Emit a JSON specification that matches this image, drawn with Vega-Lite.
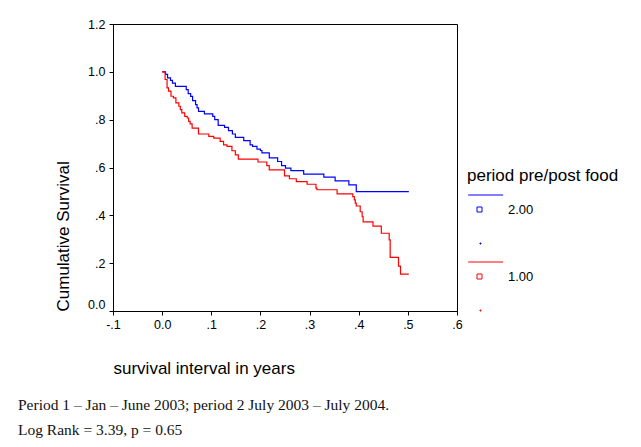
{
  "$schema": "https://vega.github.io/schema/vega-lite/v6.json",
  "autosize": {"type": "none"},
  "padding": {"left": 113, "top": 24, "right": 184, "bottom": 136},
  "width": 344,
  "height": 287,
  "background": "white",
  "config": {
    "view": {"stroke": "black", "strokeWidth": 1},
    "font": "Liberation Sans",
    "axis": {
      "domainColor": "black",
      "tickColor": "black",
      "labelColor": "black",
      "titleColor": "black",
      "grid": false,
      "labelFont": "Liberation Sans",
      "titleFont": "Liberation Sans",
      "labelFontSize": 12.5,
      "titleFontSize": 17,
      "titleFontWeight": "normal",
      "tickSize": 4
    }
  },
  "title": {
    "text": ["Period 1 \u2013 Jan \u2013 June 2003; period 2 July 2003 \u2013 July 2004.", "Log Rank = 3.39, p = 0.65"],
    "orient": "bottom",
    "anchor": "start",
    "frame": "group",
    "dx": -95,
    "offset": 21,
    "font": "Liberation Serif",
    "fontSize": 15.5,
    "fontWeight": "normal",
    "color": "#111111",
    "lineHeight": 25
  },
  "data": {
    "values": [
      {"time": 0.0, "surv": 1.0, "group": "2.00"},
      {"time": 0.007, "surv": 0.989, "group": "2.00"},
      {"time": 0.011, "surv": 0.975, "group": "2.00"},
      {"time": 0.017, "surv": 0.964, "group": "2.00"},
      {"time": 0.021, "surv": 0.953, "group": "2.00"},
      {"time": 0.027, "surv": 0.939, "group": "2.00"},
      {"time": 0.049, "surv": 0.926, "group": "2.00"},
      {"time": 0.053, "surv": 0.909, "group": "2.00"},
      {"time": 0.058, "surv": 0.897, "group": "2.00"},
      {"time": 0.062, "surv": 0.88, "group": "2.00"},
      {"time": 0.068, "surv": 0.863, "group": "2.00"},
      {"time": 0.071, "surv": 0.849, "group": "2.00"},
      {"time": 0.074, "surv": 0.835, "group": "2.00"},
      {"time": 0.086, "surv": 0.824, "group": "2.00"},
      {"time": 0.103, "surv": 0.814, "group": "2.00"},
      {"time": 0.107, "surv": 0.8, "group": "2.00"},
      {"time": 0.114, "surv": 0.776, "group": "2.00"},
      {"time": 0.127, "surv": 0.768, "group": "2.00"},
      {"time": 0.135, "surv": 0.754, "group": "2.00"},
      {"time": 0.143, "surv": 0.74, "group": "2.00"},
      {"time": 0.149, "surv": 0.726, "group": "2.00"},
      {"time": 0.166, "surv": 0.712, "group": "2.00"},
      {"time": 0.179, "surv": 0.695, "group": "2.00"},
      {"time": 0.184, "surv": 0.688, "group": "2.00"},
      {"time": 0.193, "surv": 0.677, "group": "2.00"},
      {"time": 0.2, "surv": 0.671, "group": "2.00"},
      {"time": 0.203, "surv": 0.661, "group": "2.00"},
      {"time": 0.218, "surv": 0.64, "group": "2.00"},
      {"time": 0.235, "surv": 0.625, "group": "2.00"},
      {"time": 0.243, "surv": 0.608, "group": "2.00"},
      {"time": 0.251, "surv": 0.597, "group": "2.00"},
      {"time": 0.262, "surv": 0.587, "group": "2.00"},
      {"time": 0.288, "surv": 0.572, "group": "2.00"},
      {"time": 0.329, "surv": 0.56, "group": "2.00"},
      {"time": 0.352, "surv": 0.544, "group": "2.00"},
      {"time": 0.38, "surv": 0.527, "group": "2.00"},
      {"time": 0.395, "surv": 0.499, "group": "2.00"},
      {"time": 0.502, "surv": 0.499, "group": "2.00"},
      {"time": 0.0, "surv": 1.0, "group": "1.00"},
      {"time": 0.006, "surv": 0.968, "group": "1.00"},
      {"time": 0.01, "surv": 0.933, "group": "1.00"},
      {"time": 0.013, "surv": 0.919, "group": "1.00"},
      {"time": 0.018, "surv": 0.898, "group": "1.00"},
      {"time": 0.023, "surv": 0.891, "group": "1.00"},
      {"time": 0.028, "surv": 0.87, "group": "1.00"},
      {"time": 0.034, "surv": 0.856, "group": "1.00"},
      {"time": 0.037, "surv": 0.842, "group": "1.00"},
      {"time": 0.04, "surv": 0.828, "group": "1.00"},
      {"time": 0.046, "surv": 0.814, "group": "1.00"},
      {"time": 0.051, "surv": 0.807, "group": "1.00"},
      {"time": 0.054, "surv": 0.793, "group": "1.00"},
      {"time": 0.057, "surv": 0.782, "group": "1.00"},
      {"time": 0.061, "surv": 0.765, "group": "1.00"},
      {"time": 0.074, "surv": 0.74, "group": "1.00"},
      {"time": 0.095, "surv": 0.73, "group": "1.00"},
      {"time": 0.105, "surv": 0.723, "group": "1.00"},
      {"time": 0.118, "surv": 0.709, "group": "1.00"},
      {"time": 0.125, "surv": 0.695, "group": "1.00"},
      {"time": 0.132, "surv": 0.688, "group": "1.00"},
      {"time": 0.142, "surv": 0.67, "group": "1.00"},
      {"time": 0.149, "surv": 0.653, "group": "1.00"},
      {"time": 0.155, "surv": 0.635, "group": "1.00"},
      {"time": 0.195, "surv": 0.623, "group": "1.00"},
      {"time": 0.213, "surv": 0.608, "group": "1.00"},
      {"time": 0.218, "surv": 0.59, "group": "1.00"},
      {"time": 0.249, "surv": 0.565, "group": "1.00"},
      {"time": 0.259, "surv": 0.553, "group": "1.00"},
      {"time": 0.273, "surv": 0.541, "group": "1.00"},
      {"time": 0.295, "surv": 0.53, "group": "1.00"},
      {"time": 0.313, "surv": 0.514, "group": "1.00"},
      {"time": 0.315, "surv": 0.507, "group": "1.00"},
      {"time": 0.356, "surv": 0.49, "group": "1.00"},
      {"time": 0.388, "surv": 0.478, "group": "1.00"},
      {"time": 0.391, "surv": 0.465, "group": "1.00"},
      {"time": 0.393, "surv": 0.451, "group": "1.00"},
      {"time": 0.395, "surv": 0.439, "group": "1.00"},
      {"time": 0.403, "surv": 0.415, "group": "1.00"},
      {"time": 0.407, "surv": 0.394, "group": "1.00"},
      {"time": 0.409, "surv": 0.373, "group": "1.00"},
      {"time": 0.429, "surv": 0.355, "group": "1.00"},
      {"time": 0.446, "surv": 0.325, "group": "1.00"},
      {"time": 0.462, "surv": 0.297, "group": "1.00"},
      {"time": 0.464, "surv": 0.224, "group": "1.00"},
      {"time": 0.481, "surv": 0.188, "group": "1.00"},
      {"time": 0.485, "surv": 0.154, "group": "1.00"},
      {"time": 0.502, "surv": 0.154, "group": "1.00"}
    ]
  },
  "mark": {"type": "line", "interpolate": "step-after", "strokeWidth": 1.2},
  "encoding": {
    "x": {
      "field": "time",
      "type": "quantitative",
      "scale": {"domain": [-0.1, 0.6], "nice": false, "zero": false},
      "axis": {
        "title": "survival interval in years",
        "values": [-0.1, 0, 0.1, 0.2, 0.3, 0.4, 0.5, 0.6],
        "labelExpr": "datum.value == 0 ? '0.0' : (abs(datum.value) < 0.99 ? (datum.value < 0 ? '-' : '') + '.' + format(abs(datum.value) * 10, '.0f') : format(datum.value, '.1f'))",
        "titleAnchor": "start",
        "titleAlign": "left",
        "titlePadding": 30,
        "labelPadding": 3,
        "labelFlush": false
      }
    },
    "y": {
      "field": "surv",
      "type": "quantitative",
      "scale": {"domain": [0, 1.2], "nice": false},
      "axis": {
        "title": "Cumulative Survival",
        "values": [0, 0.2, 0.4, 0.6, 0.8, 1.0, 1.2],
        "labelExpr": "datum.value == 0 ? '0.0' : (abs(datum.value) < 0.99 ? '.' + format(abs(datum.value) * 10, '.0f') : format(datum.value, '.1f'))",
        "labelBaseline": {"condition": {"test": "datum.value == 0", "value": "bottom"}, "value": "middle"},
        "titleAnchor": "start",
        "titlePadding": 15,
        "labelPadding": 4,
        "labelFlush": false
      }
    },
    "color": {
      "field": "group",
      "type": "nominal",
      "scale": {"domain": ["2.00", "1.00"], "range": ["#0000ff", "#ff0000"]},
      "legend": {
        "title": "period pre/post food",
        "orient": "none",
        "legendX": 354,
        "legendY": 144,
        "padding": 0,
        "titleFont": "Liberation Sans",
        "titleFontSize": 17,
        "titleFontWeight": "normal",
        "titleColor": "black",
        "titlePadding": 18,
        "labelFont": "Liberation Sans",
        "labelFontSize": 13,
        "labelColor": "black",
        "labelOffset": 28,
        "symbolType": "M-1.06,-2.9H5.94M0.7,-0.5H1.7V0.5H0.7ZM1.3,6.7H1.5V6.9H1.3Z",
        "symbolSize": 100,
        "symbolStrokeWidth": 1,
        "symbolFillColor": "transparent",
        "rowPadding": 14
      }
    }
  }
}
